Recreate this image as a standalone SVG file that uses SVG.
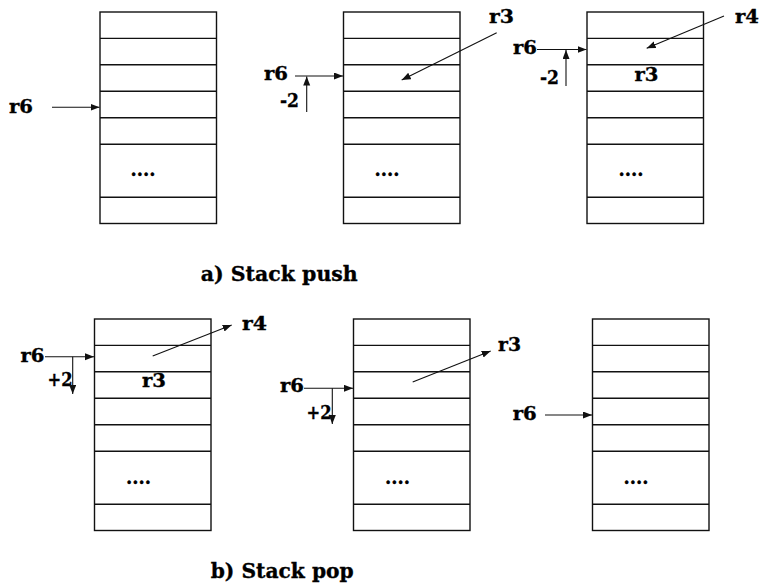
<svg xmlns="http://www.w3.org/2000/svg" xmlns:xlink="http://www.w3.org/1999/xlink" width="762" height="586" viewBox="0 0 762 586">
  <style>
    .cell { fill: #fff; stroke: #111; stroke-width: 1.4; }
    .div { stroke: #111; stroke-width: 1.4; }
    .ptr { stroke: #111; stroke-width: 1.1; fill: none; marker-end: url(#head); }
    .lbl { font-family: "DejaVu Serif", "Liberation Serif", serif; font-weight: bold; font-size: 19px; fill: #000; stroke: #000; stroke-width: 0.35; }
    .cap { font-family: "DejaVu Serif", "Liberation Serif", serif; font-weight: bold; font-size: 21px; fill: #000; stroke: #000; stroke-width: 0.35; }
  </style>
  <defs>
    <marker id="head" markerUnits="userSpaceOnUse" markerWidth="10" markerHeight="8" refX="9" refY="3.5" orient="auto">
      <path d="M0,0 L9,3.5 L0,7 z" fill="#111"/>
    </marker>
    <!-- memory column: 5 single rows, one tall row, one single row -->
    <g id="stack">
      <rect class="cell" x="0" y="0" width="116.5" height="211.5"/>
      <line class="div" x1="0" y1="26.4" x2="116.5" y2="26.4"/>
      <line class="div" x1="0" y1="52.8" x2="116.5" y2="52.8"/>
      <line class="div" x1="0" y1="79.3" x2="116.5" y2="79.3"/>
      <line class="div" x1="0" y1="105.8" x2="116.5" y2="105.8"/>
      <line class="div" x1="0" y1="132.3" x2="116.5" y2="132.3"/>
      <line class="div" x1="0" y1="185.3" x2="116.5" y2="185.3"/>
    </g>
  </defs>

  <!-- a) push -->
  <g id="push-before">
    <use xlink:href="#stack" x="100" y="12"/>
    <text class="lbl" x="130.5" y="176" textLength="25" lengthAdjust="spacingAndGlyphs">....</text>
  </g>
  <g id="push-r3">
    <use xlink:href="#stack" x="343.5" y="12"/>
    <text class="lbl" x="374.5" y="176" textLength="25" lengthAdjust="spacingAndGlyphs">....</text>
  </g>
  <g id="push-r4">
    <use xlink:href="#stack" x="587" y="12"/>
    <text class="lbl" x="634.5" y="80.7" textLength="24" lengthAdjust="spacingAndGlyphs">r3</text>
    <text class="lbl" x="618.5" y="176" textLength="25" lengthAdjust="spacingAndGlyphs">....</text>
  </g>

  <!-- b) pop -->
  <g id="pop-r4">
    <use xlink:href="#stack" x="94.5" y="319"/>
    <text class="lbl" x="142" y="387" textLength="24" lengthAdjust="spacingAndGlyphs">r3</text>
    <text class="lbl" x="126" y="483.5" textLength="25" lengthAdjust="spacingAndGlyphs">....</text>
  </g>
  <g id="pop-r3">
    <use xlink:href="#stack" x="353.5" y="319"/>
    <text class="lbl" x="385" y="483.5" textLength="25" lengthAdjust="spacingAndGlyphs">....</text>
  </g>
  <g id="pop-after">
    <use xlink:href="#stack" x="592.5" y="319"/>
    <text class="lbl" x="623.5" y="483.5" textLength="25" lengthAdjust="spacingAndGlyphs">....</text>
  </g>

  <!-- pointer and register labels -->
  <g id="labels">
    <text class="lbl" x="9" y="113" textLength="24" lengthAdjust="spacingAndGlyphs">r6</text>
    <text class="lbl" x="264" y="80" textLength="24" lengthAdjust="spacingAndGlyphs">r6</text>
    <text class="lbl" x="280" y="106.5" textLength="19" lengthAdjust="spacingAndGlyphs">-2</text>
    <text class="lbl" x="489" y="22.7" textLength="25" lengthAdjust="spacingAndGlyphs">r3</text>
    <text class="lbl" x="513" y="54" textLength="24" lengthAdjust="spacingAndGlyphs">r6</text>
    <text class="lbl" x="540" y="84" textLength="19" lengthAdjust="spacingAndGlyphs">-2</text>
    <text class="lbl" x="735" y="22.7" textLength="24" lengthAdjust="spacingAndGlyphs">r4</text>

    <text class="lbl" x="20.5" y="361.7" textLength="24" lengthAdjust="spacingAndGlyphs">r6</text>
    <text class="lbl" x="47.5" y="386" textLength="25" lengthAdjust="spacingAndGlyphs">+2</text>
    <text class="lbl" x="242" y="330" textLength="25" lengthAdjust="spacingAndGlyphs">r4</text>
    <text class="lbl" x="280" y="392.3" textLength="24" lengthAdjust="spacingAndGlyphs">r6</text>
    <text class="lbl" x="306.5" y="419.3" textLength="25" lengthAdjust="spacingAndGlyphs">+2</text>
    <text class="lbl" x="498" y="350.7" textLength="23" lengthAdjust="spacingAndGlyphs">r3</text>
    <text class="lbl" x="512.7" y="420" textLength="24" lengthAdjust="spacingAndGlyphs">r6</text>

    <text class="cap" x="200.7" y="281" textLength="157" lengthAdjust="spacingAndGlyphs">a) Stack push</text>
    <text class="cap" x="210.7" y="577.7" textLength="143" lengthAdjust="spacingAndGlyphs">b) Stack pop</text>
  </g>

  <!-- connectors -->
  <g id="connectors">
    <line class="ptr" x1="52" y1="107.3" x2="99.5" y2="107.3"/>

    <line class="ptr" x1="295" y1="76" x2="343" y2="76"/>
    <line class="ptr" x1="306.7" y1="112" x2="306.7" y2="76.5"/>
    <line class="ptr" x1="496.7" y1="32.7" x2="401.7" y2="80"/>

    <line class="ptr" x1="537" y1="49.5" x2="586.5" y2="49.5"/>
    <line class="ptr" x1="566" y1="86" x2="566" y2="50"/>
    <line class="ptr" x1="724" y1="16" x2="646.7" y2="48.3"/>

    <line class="ptr" x1="45" y1="356.7" x2="94" y2="356.7"/>
    <line class="ptr" x1="72.7" y1="356.7" x2="72.7" y2="394"/>
    <line class="ptr" x1="152.7" y1="356" x2="231.7" y2="325"/>

    <line class="ptr" x1="304" y1="388.3" x2="353" y2="388.3"/>
    <line class="ptr" x1="332.3" y1="388.3" x2="332.3" y2="424"/>
    <line class="ptr" x1="412.7" y1="382" x2="490.7" y2="351"/>

    <line class="ptr" x1="545" y1="415" x2="592" y2="415"/>
  </g>
</svg>
